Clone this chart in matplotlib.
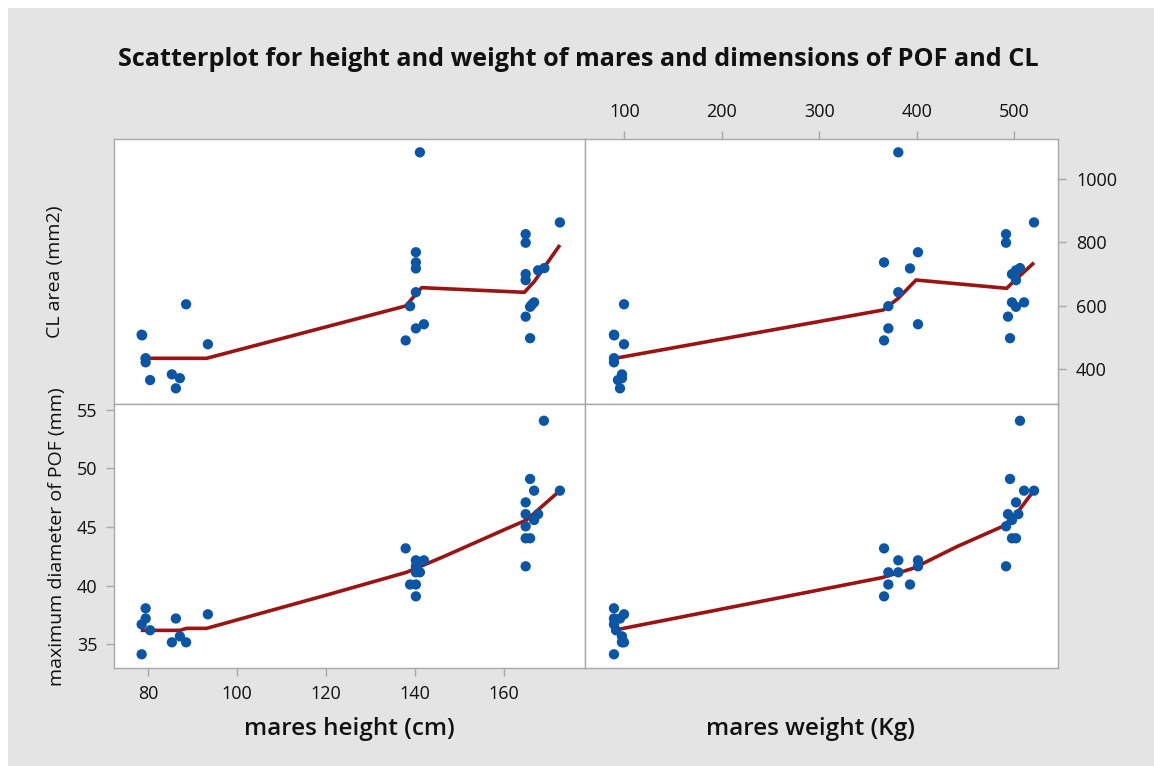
import matplotlib
matplotlib.use("Agg")
import matplotlib.pyplot as plt
from matplotlib.patches import Rectangle

# ---------------- data ----------------
# top-left: CL area vs height
tl_height = [141.1, 172.6, 164.9, 164.9, 140.2, 140.2, 140.2, 167.7, 169.1, 164.9,
             164.9, 140.2, 88.5, 138.9, 166.8, 165.9, 166.3, 164.9, 142.0, 140.2,
             78.5, 78.6, 93.4, 165.9, 137.9, 79.4, 79.4, 80.4, 85.3, 87.1, 86.2]
tl_cl = [1084, 863, 826, 799, 769, 737, 718, 712, 719, 700,
         681, 643, 605, 599, 611, 597, 604, 566, 542, 529,
         509, 507, 479, 498, 491, 435, 422, 366, 384, 372, 340]

# top-right: CL area vs weight
tr_weight = [381, 520.2, 491.5, 491.5, 401.2, 366.4, 393, 505.8, 501.7, 497.6,
             501.7, 381, 99.7, 370.8, 497.6, 501.7, 510, 493.5, 401.2, 370.8,
             89.4, 89.6, 99.7, 495.6, 366.4, 89.4, 89.4, 97.6, 97.6, 93.5, 95.6]
tr_cl = [1084, 863, 826, 799, 769, 737, 718, 719, 712, 700,
         681, 643, 605, 599, 611, 597, 611, 566, 542, 529,
         509, 507, 479, 498, 491, 435, 422, 384, 372, 366, 340]

# bottom-left: POF diameter vs height
bl_height = [169.0, 165.9, 166.8, 172.6, 164.9, 164.9, 167.7, 166.8, 164.9, 164.9,
             165.9, 164.9, 137.9, 140.2, 142.0, 140.2, 140.2, 141.1, 138.9, 140.2,
             140.2, 79.4, 79.4, 78.5, 86.2, 93.4, 80.4, 87.1, 85.3, 88.5, 78.5]
bl_pof = [54.06, 49.1, 48.1, 48.1, 47.1, 46.1, 46.1, 45.6, 45.06, 44.04,
          44.04, 41.65, 43.18, 42.16, 42.16, 41.65, 41.14, 41.14, 40.1, 40.1,
          39.09, 38.07, 37.2, 36.7, 37.2, 37.56, 36.2, 35.68, 35.17, 35.17, 34.15]

# bottom-right: POF diameter vs weight
br_weight = [505.8, 495.6, 510, 520.2, 501.7, 493.5, 504.1, 497.6, 491.5, 497.6,
             501.7, 491.5, 366.4, 381, 401.2, 401.2, 370.8, 381, 370.8, 393,
             366.4, 89.4, 89.4, 99.7, 95.6, 89.4, 91.5, 97.6, 97.6, 99.7, 89.4]
br_pof = [54.06, 49.1, 48.1, 48.1, 47.1, 46.1, 46.1, 45.6, 45.06, 44.04,
          44.04, 41.65, 43.18, 42.16, 42.16, 41.65, 41.14, 41.14, 40.1, 40.1,
          39.09, 38.07, 37.2, 37.56, 37.2, 36.7, 36.2, 35.68, 35.17, 35.17, 34.15]

# smoother (lowess) lines
tl_fit_x = [78.3, 93.1, 137.9, 141.5, 164.6, 166.8, 172.6]
tl_fit_y = [434.7, 434.7, 599.6, 657.3, 642.7, 676, 791.9]
tr_fit_x = [90.5, 365.6, 381, 399.2, 492.2, 499, 520.2]
tr_fit_y = [434.7, 587, 623.8, 681.5, 655.3, 676, 736]
bl_fit_x = [78.3, 87.1, 88.6, 93.1, 120.1, 138.1, 146.4, 159.9, 165.1, 171.9]
bl_fit_y = [36.19, 36.19, 36.36, 36.36, 39.2, 41.14, 42.47, 44.74, 45.6, 47.87]
br_fit_x = [90.5, 364, 396.4, 440.9, 488.7, 502.5, 517.9]
br_fit_y = [36.22, 40.68, 41.48, 43.32, 45.08, 46.17, 47.87]

height_ticks = [80, 100, 120, 140, 160]
weight_ticks = [100, 200, 300, 400, 500]
cl_ticks = [400, 600, 800, 1000]
pof_ticks = [35, 40, 45, 50, 55]

title = "Scatterplot for height and weight of mares and dimensions of POF and CL"
xlabel_left = "mares height (cm)"
xlabel_right = "mares weight (Kg)"
ylabel_top = "CL area (mm2)"
ylabel_bottom = "maximum diameter of POF (mm)"

# ---------------- style ----------------
plt.rcParams['font.family'] = ['Open Sans', 'DejaVu Sans']
W, H = 1154, 766
fig = plt.figure(figsize=(W / 100, H / 100), dpi=100)
fig.patch.set_facecolor('white')
fig.patches.append(Rectangle((8 / W, 0), 1 - 8 / W, 1 - 8 / H, transform=fig.transFigure,
                             facecolor='#e4e4e4', edgecolor='none', zorder=-10))

DOT = '#0a55a5'
LINE = '#9b1414'
SPINE = '#a8a8a8'
TXT = '#111111'

def px_axes(x0, y0, x1, y1):
    return fig.add_axes([x0 / W, 1 - y1 / H, (x1 - x0) / W, (y1 - y0) / H])

xl0, xm, xr1 = 114, 585, 1058
yt0, ym, yb1 = 139, 404, 668

ax_tl = px_axes(xl0, yt0, xm, ym)
ax_tr = px_axes(xm, yt0, xr1, ym)
ax_bl = px_axes(xl0, ym, xm, yb1)
ax_br = px_axes(xm, ym, xr1, yb1)

height_lim = (72.28, 178.25)
weight_lim = (59.7, 544.8)
cl_lim = (290.6, 1126)
pof_lim = (32.98, 55.49)

panels = [
    (ax_tl, tl_height, tl_cl, tl_fit_x, tl_fit_y, height_lim, cl_lim),
    (ax_tr, tr_weight, tr_cl, tr_fit_x, tr_fit_y, weight_lim, cl_lim),
    (ax_bl, bl_height, bl_pof, bl_fit_x, bl_fit_y, height_lim, pof_lim),
    (ax_br, br_weight, br_pof, br_fit_x, br_fit_y, weight_lim, pof_lim),
]
for ax, xs, ys, fx, fy, xlim, ylim in panels:
    ax.set_facecolor('white')
    ax.plot(fx, fy, color=LINE, lw=2.6, zorder=2, solid_capstyle='butt')
    ax.scatter(xs, ys, s=55, color=DOT, edgecolors='none', zorder=3)
    ax.set_xlim(*xlim)
    ax.set_ylim(*ylim)
    for sp in ax.spines.values():
        sp.set_color(SPINE)
        sp.set_linewidth(1.0)
    ax.set_xticks([])
    ax.set_yticks([])
    ax.tick_params(colors=SPINE, labelcolor=TXT, labelsize=13, length=6, width=1, pad=6)

# ticks
ax_bl.set_xticks(height_ticks)
ax_bl.set_xticklabels([str(t) for t in height_ticks])
ax_bl.set_yticks(pof_ticks)
ax_bl.set_yticklabels([str(t) for t in pof_ticks])

ax_tr.xaxis.tick_top()
ax_tr.set_xticks(weight_ticks)
ax_tr.set_xticklabels([str(t) for t in weight_ticks])
ax_tr.yaxis.tick_right()
ax_tr.set_yticks(cl_ticks)
ax_tr.set_yticklabels([str(t) for t in cl_ticks])
ax_tr.tick_params(pad=7)

# texts
fig.text(578 / W, 1 - 60 / H, title, ha='center', va='center', fontsize=18.2,
         fontweight='bold', color=TXT)
fig.text(349.5 / W, 1 - 729 / H, xlabel_left, ha='center', va='center', fontsize=17.5,
         fontweight='semibold', color=TXT)
fig.text(810 / W, 1 - 729 / H, xlabel_right, ha='center', va='center', fontsize=17.5,
         fontweight='semibold', color=TXT)
fig.text(55 / W, 1 - 272 / H, ylabel_top, ha='center', va='center', rotation=90,
         fontsize=14, color=TXT)
fig.text(57 / W, 1 - 537 / H, ylabel_bottom, ha='center', va='center', rotation=90,
         fontsize=14, color=TXT)

fig.savefig('out.png', dpi=100, facecolor=fig.get_facecolor())
